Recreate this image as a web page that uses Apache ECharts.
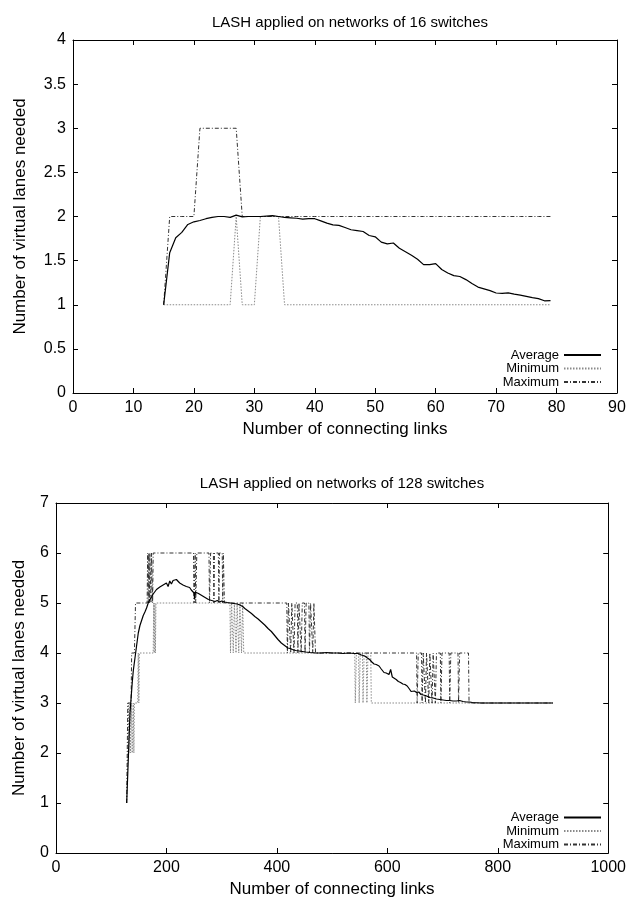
<!DOCTYPE html>
<html>
<head>
<meta charset="utf-8">
<script src="https://cdn.jsdelivr.net/npm/echarts@6/dist/echarts.min.js"></script>
<style>
html,body{margin:0;padding:0;background:#fff;}
#c{width:629px;height:899px;}
</style>
</head>
<body>
<div id="c"></div>
<script>
// ---------- Data: 16 switches ----------
const links16 = [15,16,17,18,19,20,21,22,23,24,25,26,27,28,29,30,31,32,33,34,35,36,37,38,39,40,41,42,43,44,45,46,47,48,49,50,51,52,53,54,55,56,57,58,59,60,61,62,63,64,65,66,67,68,69,70,71,72,73,74,75,76,77,78,79];
const avg16 = [1.00,1.59,1.76,1.82,1.91,1.94,1.955,1.975,1.99,2.00,2.00,1.99,2.015,1.995,2.00,2.00,2.00,2.005,2.01,2.00,1.99,1.985,1.98,1.97,1.975,1.975,1.95,1.925,1.905,1.90,1.875,1.85,1.84,1.83,1.785,1.77,1.71,1.69,1.70,1.64,1.60,1.56,1.515,1.455,1.455,1.466,1.40,1.36,1.33,1.32,1.285,1.24,1.20,1.18,1.16,1.133,1.13,1.135,1.12,1.11,1.095,1.08,1.07,1.045,1.047];
const min16 = [1,1,1,1,1,1,1,1,1,1,1,1,2,1,1,1,2,2,2,2,1,1,1,1,1,1,1,1,1,1,1,1,1,1,1,1,1,1,1,1,1,1,1,1,1,1,1,1,1,1,1,1,1,1,1,1,1,1,1,1,1,1,1,1,1];
const max16 = [1,2,2,2,2,2,3,3,3,3,3,3,3,2,2,2,2,2,2,2,2,2,2,2,2,2,2,2,2,2,2,2,2,2,2,2,2,2,2,2,2,2,2,2,2,2,2,2,2,2,2,2,2,2,2,2,2,2,2,2,2,2,2,2,2];

// ---------- Data: 128 switches ([links, lanes]) ----------
const avg128 = [[128,1.00],[130,1.6],[132,2.2],[134,2.8],[136,3.1],[138,3.4],[140,3.65],[143,3.9],[146,4.15],[149,4.4],[152,4.55],[155,4.65],[158,4.75],[161,4.82],[164,4.9],[167,5.0],[170,5.07],[173,5.12],[176,5.18],[179,5.22],[182,5.27],[185,5.24],[188,5.32],[191,5.28],[194,5.36],[197,5.35],[200,5.40],[203,5.33],[206,5.44],[209,5.38],[212,5.45],[215,5.42],[218,5.47],[221,5.46],[224,5.40],[227,5.44],[230,5.36],[233,5.38],[236,5.33],[239,5.30],[242,5.31],[245,5.26],[248,5.28],[250,5.20],[251,5.07],[252,5.22],[255,5.24],[258,5.19],[261,5.21],[264,5.15],[267,5.17],[270,5.11],[273,5.13],[276,5.07],[279,5.10],[282,5.05],[285,5.07],[288,5.03],[292,5.05],[296,5.02],[300,5.04],[305,5.02],[310,5.01],[316,5.00],[322,4.99],[328,4.98],[333,4.96],[338,4.93],[342,4.89],[345,4.86],[348,4.84],[351,4.81],[354,4.79],[357,4.76],[360,4.73],[363,4.72],[366,4.68],[369,4.66],[372,4.62],[375,4.60],[378,4.56],[381,4.54],[384,4.49],[387,4.47],[390,4.43],[393,4.40],[396,4.35],[399,4.32],[402,4.27],[405,4.23],[408,4.20],[411,4.17],[414,4.15],[417,4.13],[420,4.10],[424,4.09],[428,4.07],[434,4.05],[440,4.04],[446,4.03],[452,4.02],[460,4.01],[470,4.00],[480,4.00],[490,4.01],[500,4.00],[510,4.00],[520,3.99],[530,4.00],[540,3.99],[547,3.99],[553,3.96],[559,3.94],[564,3.90],[568,3.87],[572,3.82],[576,3.78],[580,3.77],[585,3.74],[589,3.68],[594,3.61],[598,3.60],[603,3.57],[606,3.67],[609,3.52],[612,3.48],[616,3.47],[620,3.43],[624,3.41],[628,3.38],[632,3.37],[636,3.34],[640,3.28],[643,3.23],[645,3.20],[649,3.24],[653,3.21],[657,3.22],[661,3.17],[665,3.16],[669,3.15],[673,3.13],[677,3.11],[683,3.10],[689,3.08],[695,3.07],[701,3.06],[707,3.05],[713,3.05],[719,3.04],[725,3.04],[731,3.05],[737,3.03],[743,3.02],[749,3.02],[754,3.01],[770,3.00],[790,3.00],[820,3.00],[850,3.00],[880,3.00],[900,3.00]];
const min128 = [[128,1],[130,2],[131,3],[132,2],[134,3],[135,2],[137,3],[138,2],[140,3],[141,2],[142,3],[148,3],[149,4],[150,3],[151,4],[176,4],[177,5],[178,4],[179,5],[180,4],[181,5],[315,5],[316,4],[318,5],[320,5],[321,4],[323,5],[325,5],[326,4],[328,5],[330,5],[331,4],[333,5],[335,5],[336,4],[338,5],[339,5],[340,4],[541,4],[542,3],[544,4],[548,4],[549,3],[551,4],[555,4],[556,3],[558,4],[562,4],[563,3],[565,4],[570,4],[571,3],[900,3]];
const max128 = [[128,1],[130,3],[136,3],[137,4],[142,4],[144,5],[165,5],[166,6],[167,5],[168,6],[169,5],[170,6],[172,5],[173,6],[175,5],[176,6],[249,6],[250,5],[252,6],[253,5],[255,6],[277,6],[278,5],[280,6],[285,6],[286,5],[287,6],[294,6],[295,5],[296,6],[301,6],[302,5],[303,6],[304,6],[305,5],[418,5],[419,4],[421,5],[424,5],[425,4],[427,5],[430,5],[431,4],[433,5],[437,5],[438,4],[440,5],[443,5],[444,4],[446,5],[450,5],[451,4],[453,5],[458,5],[459,4],[461,5],[464,5],[465,4],[467,5],[469,5],[470,4],[653,4],[654,3],[656,4],[662,4],[663,3],[665,4],[668,4],[669,3],[671,4],[674,4],[675,3],[677,4],[680,4],[681,3],[683,4],[686,4],[687,3],[689,4],[696,4],[697,3],[699,4],[712,4],[713,3],[715,4],[728,4],[729,3],[731,4],[747,4],[748,3],[900,3]];

const titles = ['LASH applied on networks of 16 switches','LASH applied on networks of 128 switches'];
const xName = 'Number of connecting links';
const yName = 'Number of virtual lanes needed';
const seriesNames = ['Average','Minimum','Maximum'];

// ---------- Chart ----------
const FONT = 'Liberation Sans, Arial, Helvetica, sans-serif';
const chart = echarts.init(document.getElementById('c'), null, {renderer:'canvas'});

function pair(xs, ys){ return xs.map((x,i)=>[x, ys[i]]); }

const styles = {
  Average: {color:'#000', width:1.2, type:'solid'},
  Minimum: {color:'#8a8a8a', width:1, type:[1.5,1.5]},
  Maximum: {color:'#333', width:1, type:[4,2,1,2]}
};

function mkSeries(name, data, gi){
  const s = styles[name];
  return {
    name, type:'line', data, xAxisIndex: gi*2, yAxisIndex: gi*2,
    showSymbol:false, symbol:'none', animation:false, silent:true,
    lineStyle:{color:s.color, width:s.width, type:s.type},
    itemStyle:{color:s.color},
    z: name==='Average'?5:3
  };
}

const grids = [
  {left:73, right:12, top:40, height:353},
  {left:56, right:11, top:503, height:352}
];
const xCfg = [{min:0,max:90,interval:10},{min:0,max:1000,interval:200}];
const yCfg = [{min:0,max:4,interval:0.5},{min:0,max:7,interval:1}];
const yNameGap = [44, 28];

const xAxes = [], yAxes = [];
for (let g=0; g<2; g++){
  const axLine = {show:true, onZero:false, lineStyle:{color:'#000', width:1}};
  const tick = {show:true, inside:true, length:5, lineStyle:{color:'#000', width:1}};
  xAxes.push({
    type:'value', gridIndex:g, position:'bottom', ...xCfg[g],
    axisLine:axLine, axisTick:tick, splitLine:{show:false},
    axisLabel:{color:'#000', fontSize:16, fontFamily:FONT, margin:7, formatter:(v)=>String(v), alignMaxLabel:'center'},
    name:xName, nameLocation:'middle', nameGap:28,
    nameTextStyle:{color:'#000', fontSize:17, fontFamily:FONT}
  });
  xAxes.push({
    type:'value', gridIndex:g, position:'top', ...xCfg[g],
    axisLine:axLine, axisTick:tick, splitLine:{show:false}, axisLabel:{show:false}
  });
  yAxes.push({
    type:'value', gridIndex:g, position:'left', ...yCfg[g],
    axisLine:axLine, axisTick:tick, splitLine:{show:false},
    axisLabel:{color:'#000', fontSize:16, fontFamily:FONT, margin:7},
    name:yName, nameLocation:'middle', nameGap:yNameGap[g], nameRotate:90,
    nameTextStyle:{color:'#000', fontSize:17, fontFamily:FONT}
  });
  yAxes.push({
    type:'value', gridIndex:g, position:'right', ...yCfg[g],
    axisLine:axLine, axisTick:tick, splitLine:{show:false}, axisLabel:{show:false}
  });
}

function mkLegend(top){
  return {
    orient:'vertical', align:'right', right:27, top:top, padding:0,
    itemWidth:37, itemHeight:8, itemGap:0.5,
    itemStyle:{opacity:0},
    textStyle:{color:'#000', fontSize:13, lineHeight:13, fontFamily:FONT},
    selectedMode:false, data:seriesNames.slice()
  };
}

const option = {
  backgroundColor:'#fff',
  animation:false,
  title:[
    {text:titles[0], left:345, top:10, textAlign:'center', textStyle:{color:'#000', fontSize:15, fontWeight:'normal', fontFamily:FONT}},
    {text:titles[1], left:337, top:471, textAlign:'center', textStyle:{color:'#000', fontSize:15, fontWeight:'normal', fontFamily:FONT}}
  ],
  legend:[ mkLegend(348.5), mkLegend(811) ],
  grid:grids,
  xAxis:xAxes,
  yAxis:yAxes,
  series:[
    mkSeries('Average', pair(links16, avg16), 0),
    mkSeries('Minimum', pair(links16, min16), 0),
    mkSeries('Maximum', pair(links16, max16), 0),
    mkSeries('Average', avg128, 1),
    mkSeries('Minimum', min128, 1),
    mkSeries('Maximum', max128, 1)
  ]
};
chart.setOption(option);
</script>
</body>
</html>
